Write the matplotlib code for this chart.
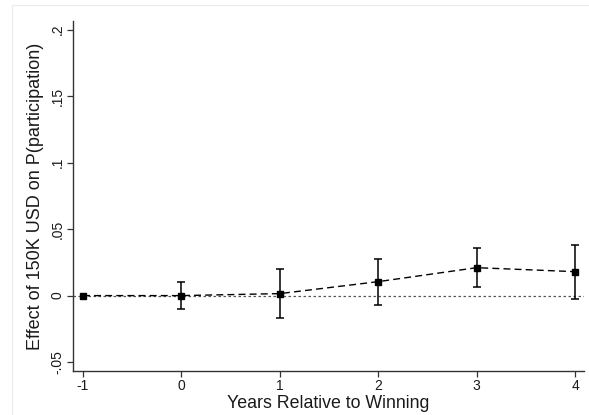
import matplotlib
matplotlib.use("Agg")
import matplotlib.pyplot as plt
from matplotlib.patches import Rectangle

plt.rcParams['font.family'] = ['Liberation Sans', 'DejaVu Sans']

# event-study estimates with 95% confidence bounds
years = [-1, 0, 1, 2, 3, 4]
coef = [0.0, 0.0, 0.0015, 0.0105, 0.021, 0.018]
ci_low = [0.0, -0.0100, -0.0165, -0.0072, 0.0068, -0.0023]
ci_high = [0.0, 0.0101, 0.0203, 0.0278, 0.0356, 0.0379]

yticks = [-0.05, 0, 0.05, 0.1, 0.15, 0.2]
ytick_labels = ['-.05', '0', '.05', '.1', '.15', '.2']
xticks = [-1, 0, 1, 2, 3, 4]

W, H = 589, 415
fig = plt.figure(figsize=(W / 100, H / 100), dpi=100)
fig.patch.set_facecolor('white')

# faint outer graph region border
fig.add_artist(Rectangle((12 / W, -0.1), 1.2, (H - 5) / H + 0.1, transform=fig.transFigure,
                         fill=False, edgecolor='#eaeaea', linewidth=0.8))

ax = fig.add_axes([73 / W, (H - 371) / H, (584 - 73) / W, (371 - 21) / H])

err_lo = [c - l for c, l in zip(coef, ci_low)]
err_hi = [h - c for c, h in zip(coef, ci_high)]
sub = slice(1, None)
ax.errorbar(years[sub], coef[sub], yerr=[err_lo[sub], err_hi[sub]], fmt='none',
            ecolor='black', elinewidth=1.1, capsize=3, capthick=1.1, zorder=3)

ax.axhline(0, color='#555555', linestyle=(0, (2, 2)), linewidth=0.9, zorder=1)
ax.plot(years, coef, color='black', linestyle=(0, (5, 3)), linewidth=1.0,
        marker='s', markersize=5, markerfacecolor='black', markeredgecolor='black', zorder=4)

ax.set_xlim(-1.1015, 4.091)
ax.set_ylim(-0.0567, 0.2065)
ax.set_xticks(xticks)
ax.set_xticklabels([str(x) for x in xticks])
ax.set_yticks(yticks)
ax.set_yticklabels(ytick_labels, rotation=90, va='center')

for s in ['top', 'right']:
    ax.spines[s].set_visible(False)
for s in ['left', 'bottom']:
    ax.spines[s].set_color('#333333')
    ax.spines[s].set_linewidth(1.0)
ax.tick_params(axis='both', direction='out', length=4, width=0.9, color='#333333',
               labelsize=10, labelcolor='#1a1a1a', pad=2)

ax.set_xlabel('Years Relative to Winning', fontsize=12.8, labelpad=1, color='#1a1a1a')
ax.set_ylabel('Effect of 150K USD on P(participation)', fontsize=13, labelpad=5, color='#1a1a1a')

fig.savefig('out.png', dpi=100, facecolor='white')
